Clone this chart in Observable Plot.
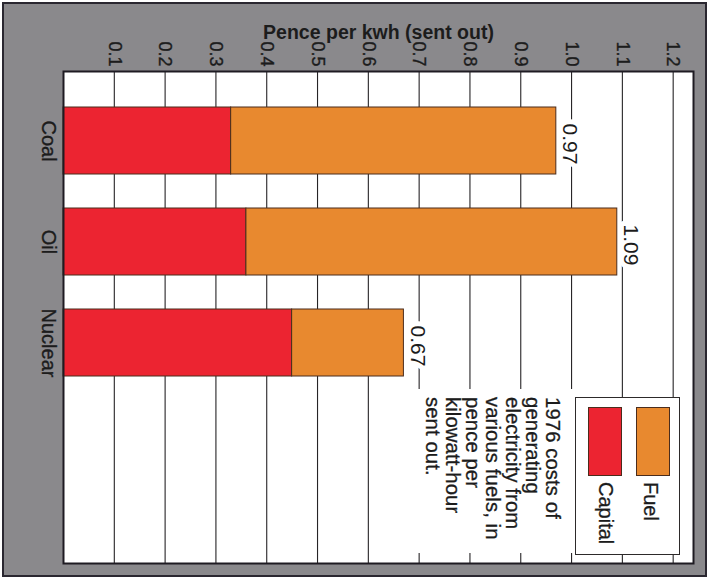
<!DOCTYPE html>
<html>
<head>
<meta charset="utf-8">
<script src="https://cdn.jsdelivr.net/npm/d3@7"></script>
<script src="https://cdn.jsdelivr.net/npm/@observablehq/plot@0.6"></script>
<style>
  html, body { margin: 0; padding: 0; background: #fff; overflow: hidden; }
  #page { position: relative; width: 712px; height: 581px; }
  #board {
    position: absolute; left: 2px; top: 2px; width: 705px; height: 575px;
    box-sizing: border-box; background: #8a898c; border: 2px solid #2a2730;
  }
  #chart { position: absolute; left: 0; top: 0; }
  #chart g[aria-label="x-axis tick label"],
  #chart g[aria-label="y-axis tick label"] { stroke: #1c1c1c; stroke-width: 0.35px; }
  #key {
    position: absolute; left: 680px; top: 397px; width: 0; height: 0;
    transform-origin: 0 0; transform: rotate(90deg);
    font-family: "Liberation Sans", Arial, Helvetica, sans-serif; color: #1c1c1c;
    -webkit-text-stroke: 0.3px #1c1c1c;
  }
  .legend-box {
    position: absolute; left: 0; top: 0; width: 158px; height: 105px;
    box-sizing: border-box; background: #fff; border: 1.5px solid #2d2a2a;
  }
  .swatch {
    position: absolute; left: 9px; width: 69px; height: 34px;
    box-sizing: border-box; border: 1px solid #4a2c1c;
  }
  .swatch-label {
    position: absolute; left: 84px; font-size: 20px; line-height: 20px; white-space: nowrap;
  }
  .note {
    position: absolute; left: -8px; top: 106px; width: 164px; height: 158px;
    background: #fff;
  }
  .note-text {
    position: absolute; left: 8px; top: 11px; font-size: 20.3px; line-height: 20px;
    white-space: pre; letter-spacing: 0.1px;
  }
</style>
</head>
<body>
<div id="page">
  <div id="board"></div>
  <div id="chart"></div>
  <div id="key"></div>
</div>
<script>
// Generating costs, pence per kWh sent out (1976)
const categories = ["Coal", "Oil", "Nuclear"];
const totals = [0.97, 1.09, 0.67];          // capital + fuel, as labelled
const capital = [0.33, 0.36, 0.45];         // capital share of each total
const ticks = [0.1, 0.2, 0.3, 0.4, 0.5, 0.6, 0.7, 0.8, 0.9, 1.0, 1.1, 1.2];
const seriesNames = ["Fuel", "Capital"];
const seriesColors = ["#e8892f", "#ec2431"];
const axisTitle = "Pence per kwh (sent out)";
const noteLines = [
  "1976 costs of",
  "generating",
  "electricity from",
  "various fuels, in",
  "pence per",
  "kilowatt-hour",
  "sent out."
];

const rows = categories.map((category, i) => ({
  category,
  capital: capital[i],
  total: totals[i]
}));

// Capital runs from zero; fuel sits on top of it up to the labelled total
const segments = rows.flatMap(d => [
  {category: d.category, series: "Capital", x1: 0, x2: d.capital},
  {category: d.category, series: "Fuel", x1: d.capital, x2: d.total}
]);

const ink = "#1c1c1c";
const font = "'Liberation Sans', Arial, Helvetica, sans-serif";

const chart = Plot.plot({
  width: 712,
  height: 581,
  marginTop: 71,
  marginLeft: 63,
  marginRight: 19,
  marginBottom: 18,
  style: {fontFamily: font, color: ink, background: "transparent", overflow: "visible"},
  x: {domain: [0, 1.24]},
  y: {domain: categories, range: [89.5, 394.5], paddingInner: 0.336, paddingOuter: 0.168},
  color: {domain: seriesNames, range: seriesColors},
  marks: [
    Plot.frame({fill: "white", stroke: "none"}),
    Plot.ruleX(ticks, {stroke: "#262426", strokeWidth: 1.1}),
    Plot.barX(segments, {
      x1: "x1", x2: "x2", y: "category", fill: "series",
      stroke: "#4a2c1c", strokeWidth: 1
    }),
    Plot.text(rows, {
      x: "total", y: "category", text: d => d.total.toFixed(2),
      rotate: 90, textAnchor: "middle", lineAnchor: "bottom",
      dx: 7, dy: 3, fontSize: 21, fill: ink,
      stroke: "white", strokeWidth: 10, paintOrder: "stroke"
    }),
    Plot.frame({stroke: "#1e1b22", strokeWidth: 2}),
    Plot.axisX(ticks, {
      anchor: "top", tickRotate: 90, tickSize: 0, tickPadding: 5,
      tickFormat: d3.format(".1f"), fontSize: 18, label: null
    }),
    Plot.axisY({
      anchor: "left", tickRotate: 90, tickSize: 0, tickPadding: 7,
      fontSize: 20, label: null
    }),
    Plot.text([axisTitle], {
      frameAnchor: "top", dy: -46, fontSize: 19.5, fontWeight: "bold", fill: ink
    })
  ]
});

document.getElementById("chart").appendChild(chart);

// Key and note, set sideways like the rest of the page
const color = chart.scale("color");
const key = d3.select("#key");
const box = key.append("div").attr("class", "legend-box");
seriesNames.forEach((name, i) => {
  box.append("div")
    .attr("class", "swatch")
    .style("top", (9 + i * 48) + "px")
    .style("background", color.apply(name));
  box.append("div")
    .attr("class", "swatch-label")
    .style("top", (18 + i * 45) + "px")
    .text(name);
});
key.append("div").attr("class", "note")
  .append("div").attr("class", "note-text")
  .text(noteLines.join("\n"));
</script>
</body>
</html>
